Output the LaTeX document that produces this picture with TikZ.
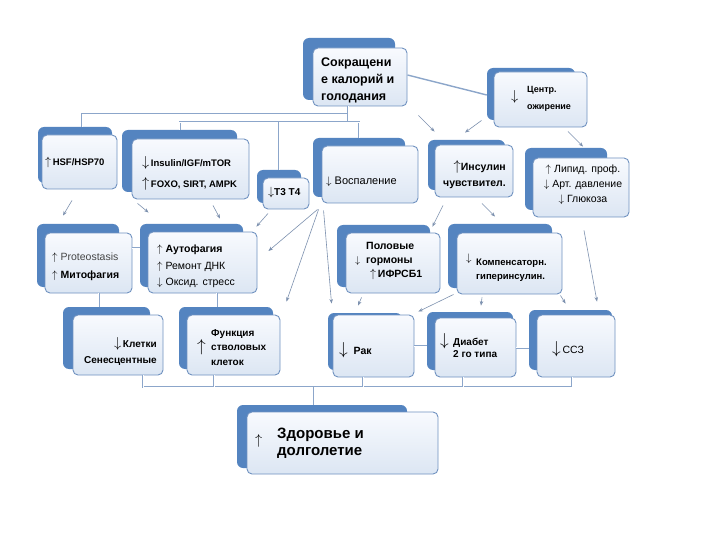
\documentclass[tikz,border=0pt]{standalone}
\usepackage{fontspec}
\setmainfont{Liberation Sans}
\usetikzlibrary{arrows.meta}
\definecolor{shad}{RGB}{84,132,192}
\definecolor{bord}{RGB}{112,146,192}
\definecolor{ftop}{RGB}{248,250,254}
\definecolor{fbot}{RGB}{220,230,243}
\definecolor{connc}{RGB}{140,166,202}
\definecolor{arrc}{RGB}{125,145,175}
\definecolor{protc}{RGB}{70,70,70}
\newcommand\fs[2]{\fontsize{#1}{#2}\selectfont}
\newcommand\shbox[5]{\node[shadowbox, minimum width={(#4-#2)*1pt}, minimum height={(#5-#3)*1pt}] (#1) at ({(#2+#4)/2},{(#3+#5)/2}) {};}
\newcommand\frbox[5]{\node[frontbox, minimum width={(#4-#2)*1pt}, minimum height={(#5-#3)*1pt}] (#1) at ({(#2+#4)/2},{(#3+#5)/2}) {};}
\tikzset{
  shadowbox/.style={fill=shad, rounded corners=6pt, inner sep=0pt, draw=none},
  frontbox/.style={draw=bord, line width=0.9pt, rounded corners=5pt, top color=ftop, bottom color=fbot, inner sep=0pt},
  tx/.style={inner sep=0pt, anchor=west, align=left},
  conn/.style={draw=connc, line width=0.6pt, double=white, double distance=0.8pt},
  arr/.style={draw=arrc, line width=0.6pt, -{Stealth[length=4.5pt,width=3.5pt]}}
}
\begin{document}
\begin{tikzpicture}[x=1pt,y=-1pt]
\useasboundingbox (0,0) rectangle (720,540);
\fill[white] (0,0) rectangle (720,540);

% main
\shbox{mainS}{303}{38}{395}{100}
\frbox{main}{313}{48}{407}{106}
\node[tx, font=\fs{12.5}{17}\bfseries] (mainT) at (321,80) {Сокращени\\е калорий и\\голодания};

% centr
\shbox{centrS}{487}{68}{575}{120}
\frbox{centr}{494}{72}{587}{127}
\node[tx, font=\fs{15}{15}] (centrA) at (511,97) {$\downarrow$};
\node[tx, font=\fs{9}{17}\bfseries] (centrT) at (527,99) {Центр.\\ожирение};

% hsf
\shbox{hsfS}{38}{127}{112}{183}
\frbox{hsf}{42}{135}{117}{189}
\node[tx, font=\fs{9.5}{12}\bfseries] (hsfT) at (45,163) {{\fs{13}{13}$\uparrow$}\,HSF/HSP70};

% ins
\shbox{insS}{122}{130}{237}{192}
\frbox{ins}{132}{139}{249}{199}
\node[tx, font=\fs{9.5}{21}\bfseries] (insT) at (142,173.5) {{\fs{14}{14}$\downarrow$}\,Insulin/IGF/mTOR\\{\fs{14}{14}$\uparrow$}\,FOXO, SIRT, AMPK};

% t3
\shbox{t3S}{257}{170}{301}{203}
\frbox{t3}{263}{178}{309}{209}
\node[tx, font=\fs{10}{12}\bfseries] (t3T) at (268,193) {{\fs{13}{13}$\downarrow$}Т3 Т4};

% vosp
\shbox{vospS}{313}{138}{405}{197}
\frbox{vosp}{322}{146}{418}{203}
\node[tx, font=\fs{11}{12}] (vospT) at (326,182) {$\downarrow$\ Воспаление};

% insch
\shbox{inschS}{428}{140}{505}{190}
\frbox{insch}{435}{145}{513}{197}
\node[tx, anchor=east, align=right, font=\fs{10.5}{16}\bfseries] (inschT) at (506,175) {{\fs{14}{14}$\uparrow$}Инсулин\\чувствител.};

% lipid
\shbox{lipidS}{525}{148}{607}{210}
\frbox{lipid}{533}{158}{629}{217}
\node[tx, anchor=center, align=center, font=\fs{10.5}{15}] (lipidT) at (583,185) {$\uparrow$ Липид. проф.\\$\downarrow$ Арт. давление\\$\downarrow$ Глюкоза};

% prot
\shbox{protS}{37}{224}{119}{287}
\frbox{prot}{45}{233}{132}{293}
\node[tx, font=\fs{10.5}{18}] (protT) at (52,267) {$\uparrow$ {\color{protc}Proteostasis}\\$\uparrow$ \textbf{Митофагия}};

% auto
\shbox{autoS}{140}{224}{243}{287}
\frbox{auto}{148}{232}{257}{293}
\node[tx, font=\fs{10.5}{16.5}] (autoT) at (157,266.5) {$\uparrow$ \textbf{Аутофагия}\\$\uparrow$ Ремонт ДНК\\$\downarrow$ Оксид. стресс};

% polov
\shbox{polovS}{337}{225}{430}{287}
\frbox{polov}{346}{233}{440}{293}
\node[tx, font=\fs{10}{10}] (polovA) at (355,261) {$\downarrow$};
\node[tx, font=\fs{10.5}{14}\bfseries] (polovT) at (366,261) {Половые\\гормоны\\\hspace*{4pt}{\fs{13}{13}$\uparrow$}\,ИФРСБ1};

% komp
\shbox{kompS}{448}{224}{552}{288}
\frbox{komp}{457}{233}{562}{294}
\node[tx, font=\fs{11}{11}] (kompA) at (466,259) {$\downarrow$};
\node[tx, font=\fs{9.5}{14}\bfseries] (kompT) at (476,270) {Компенсаторн.\\гиперинсулин.};

% klet
\shbox{kletS}{63}{307}{150}{369}
\frbox{klet}{73}{315}{163}{375}
\node[tx, anchor=east, align=right, font=\fs{10}{16}\bfseries] (kletT) at (157,351) {{\fs{15}{15}$\downarrow$}\,Клетки\\Сенесцентные};

% func
\shbox{funcS}{179}{307}{273}{369}
\frbox{func}{187}{315}{280}{375}
\node[tx, font=\fs{16}{16}] (funcA) at (197,347) {$\uparrow$};
\node[tx, font=\fs{10}{14.5}\bfseries] (funcT) at (211,347.5) {Функция\\стволовых\\клеток};

% rak
\shbox{rakS}{328}{313}{402}{370}
\frbox{rak}{333}{315}{414}{377}
\node[tx, font=\fs{10.5}{12}\bfseries] (rakT) at (339,350) {{\fs{16}{16}$\downarrow$}\ \ Рак};

% diab
\shbox{diabS}{427}{312}{513}{370}
\frbox{diab}{435}{318}{516}{377}
\node[tx, font=\fs{16}{16}] (diabA) at (440,341) {$\downarrow$};
\node[tx, font=\fs{10}{12.5}\bfseries] (diabT) at (453,348) {Диабет\\2 го типа};

% ssz
\shbox{sszS}{529}{310}{612}{370}
\frbox{ssz}{537}{315}{615}{377}
\node[tx, font=\fs{10.5}{12}] (sszT) at (552,349) {{\fs{16}{16}$\downarrow$}\,ССЗ};

% zdor
\shbox{zdorS}{237}{405}{407}{468}
\frbox{zdor}{247}{412}{438}{474}
\node[tx, font=\fs{14}{14}] (zdorA) at (255,441) {$\uparrow$};
\node[tx, font=\fs{15}{17}\bfseries] (zdorT) at (277,443.5) {Здоровье и\\долголетие};

% tree connectors
\coordinate (j1) at (348,114);
\coordinate (j2) at (348,122);
\draw[conn] ([xshift=-12pt]main.south) -- (j1) -| ([xshift=7pt]hsfS.north);
\draw[conn] (j1) -- (j2) -| (insS.north);
\draw[conn] (j2 -| t3S.north) -- (t3S.north);
\draw[conn] (j2) -| (vospS.north);

\draw[conn] ([yshift=15pt]prot.east) -- ([yshift=15pt]prot.east -| autoS.west);
\draw[conn] ([xshift=10pt]prot.south) -- ([xshift=10pt]prot.south |- kletS.north);
\draw[conn] ([xshift=14pt]auto.south) -- ([xshift=14pt]auto.south |- funcS.north);
\draw[conn] (rak.east) -- (rak.east -| diabS.west);
\draw[conn] (diab.east) -- (diab.east -| sszS.west);

\coordinate (bh) at (314,387);
\draw[conn] ([xshift=25pt]klet.south) |- ([xshift=-4pt]ssz.south |- bh) -- ([xshift=-4pt]ssz.south);
\draw[conn] ([xshift=-19.5pt]func.south) -- ([xshift=-19.5pt]func.south |- bh);
\draw[conn] ([xshift=-10.5pt]rak.south) -- ([xshift=-10.5pt]rak.south |- bh);
\draw[conn] ([xshift=-12.5pt]diab.south) -- ([xshift=-12.5pt]diab.south |- bh);
\draw[conn] (bh) -- ([xshift=-8pt]zdorS.north);
\draw[draw=connc, line width=1.4pt] (main.east |- 0,75) ++(0,0) -- (centrS.west |- 0,95);

% arrows
\draw[arr] ([shift={(11,9)}]main.south east) -- ([shift={(0,-13)}]insch.north west);
\draw[arr] ([shift={(-12,-7)}]centr.south west) -- ([shift={(-9,-12)}]insch.north);
\draw[arr] ([shift={(27.5,4)}]centr.south) -- ([shift={(2,-11)}]lipid.north);
\draw[arr] ([shift={(-7.5,11)}]hsf.south) -- ([shift={(-25.5,-17)}]prot.north);
\draw[arr] ([shift={(6,4)}]ins.south west) -- ([shift={(1,-19)}]auto.north west);
\draw[arr] ([shift={(22.5,6)}]ins.south) -- ([shift={(17.5,-13)}]auto.north);
\draw[arr] ([shift={(-18,4)}]t3.south) -- ([shift={(-1,-5)}]auto.north east);
\draw[arr] ([shift={(-4,6)}]vosp.south west) -- ([shift={(11,-11.5)}]auto.east);
\draw[arr] ([shift={(-3,6)}]vosp.south west) -- ([shift={(6,-13)}]func.north east);
\draw[arr] ([shift={(2,7)}]vosp.south west) -- ([shift={(-1,-11)}]rak.north west);
\draw[arr] ([shift={(-31,8)}]insch.south) -- ([shift={(-8,-6)}]polov.north east);
\draw[arr] ([shift={(8,6)}]insch.south) -- ([shift={(-14.5,-16)}]komp.north);
\draw[arr] ([shift={(3,13)}]lipid.south) -- ([shift={(21,-13)}]ssz.north);
\draw[arr] ([shift={(-2,1)}]komp.south east) -- ([shift={(29,-11)}]ssz.north west);
\draw[arr] ([shift={(-27.5,3)}]komp.south) -- ([shift={(5.5,-12)}]diab.north);
\draw[arr] ([shift={(-3,0)}]komp.south west) -- ([shift={(4,-3)}]rak.north east);
\draw[arr] ([shift={(16,4)}]polov.south west) -- ([shift={(-15.5,-9)}]rak.north);
\end{tikzpicture}
\end{document}
